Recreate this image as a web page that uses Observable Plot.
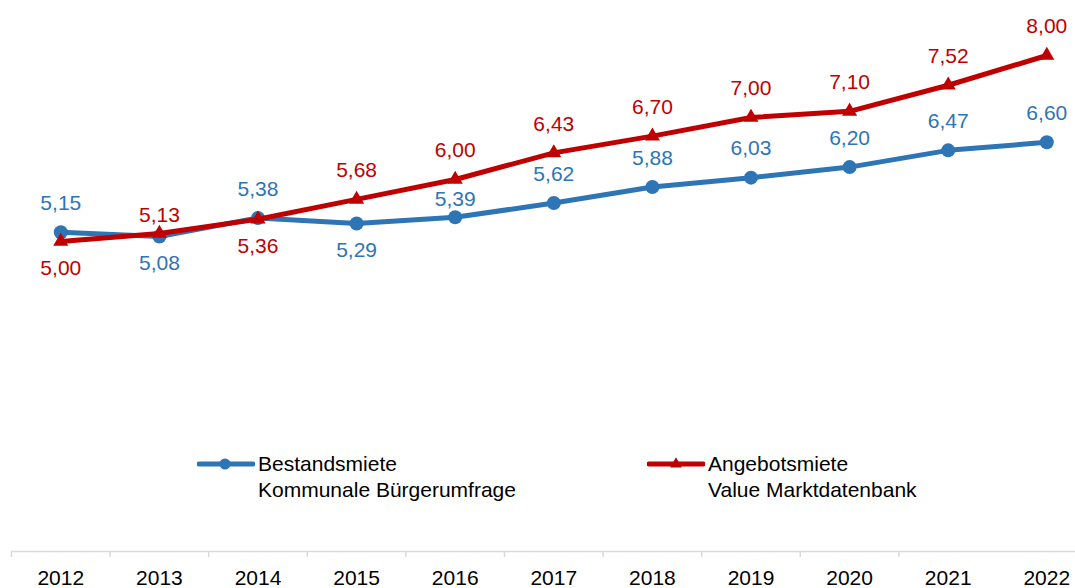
<!DOCTYPE html>
<html>
<head>
<meta charset="utf-8">
<script src="https://cdn.jsdelivr.net/npm/d3@7"></script>
<script src="https://cdn.jsdelivr.net/npm/@observablehq/plot@0.6"></script>
<style>
  html, body { margin: 0; padding: 0; background: #fff; }
  #wrap { position: relative; width: 1075px; height: 588px; font-family: "Liberation Sans", Arial, Helvetica, sans-serif; }
  .legend { position: absolute; display: flex; align-items: flex-start; }
  .legend svg { display: block; margin-top: 0; }
  .legend .lbl { font-size: 21px; line-height: 26px; color: #000; margin-left: 3px; white-space: pre; }
</style>
</head>
<body>
<div id="wrap"></div>
<script>
// ---- data ----
const years = [2012, 2013, 2014, 2015, 2016, 2017, 2018, 2019, 2020, 2021, 2022];
const bestandsmiete = [5.15, 5.08, 5.38, 5.29, 5.39, 5.62, 5.88, 6.03, 6.20, 6.47, 6.60];
const angebotsmiete = [5.00, 5.13, 5.36, 5.68, 6.00, 6.43, 6.70, 7.00, 7.10, 7.52, 8.00];
const bestandLabelPlacement = ["above", "below", "above", "below", "near", "above", "above", "above", "above", "above", "above"];
const angebotLabelPlacement = ["below", "near", "below", "above", "above", "above", "above", "above", "above", "above", "above"];
const seriesNames = ["Bestandsmiete", "Angebotsmiete"];
const seriesSources = ["Kommunale Bürgerumfrage", "Value Marktdatenbank"];

// ---- styles ----
const BLUE = "#2e75b6";
const RED = "#c00000";
const fmt = d => d.toFixed(2).replace(".", ",");
const offsets = {above: -29, below: 27, near: -18};

const bestandData = years.map((y, i) => ({year: y, value: bestandsmiete[i], pos: bestandLabelPlacement[i]}));
const angebotData = years.map((y, i) => ({year: y, value: angebotsmiete[i], pos: angebotLabelPlacement[i]}));
const boundaries = years.slice(0, -1).map(y => y - 0.5);

function labels(data, color) {
  return Object.keys(offsets).map(k => Plot.text(data, {
    filter: d => d.pos === k, x: "year", y: "value", text: d => fmt(d.value),
    dy: offsets[k], fill: color, fontSize: 21
  }));
}

const chart = Plot.plot({
  width: 1075,
  height: 588,
  marginLeft: 11,
  marginRight: 0,
  marginTop: 24,
  marginBottom: 37,
  x: {domain: [years[0] - 0.5, years[years.length - 1] + 0.5], range: [11, 1095.6], label: null},
  y: {domain: [0, 8.5], axis: null},
  style: {fontFamily: "'Liberation Sans', Arial, Helvetica, sans-serif", fontSize: "21px", background: "#fff"},
  marks: [
    Plot.ruleY([0], {stroke: "#d9d9d9", strokeWidth: 1.5}),
    Plot.axisX({ticks: boundaries, tickSize: 6, tickFormat: () => "", label: null, stroke: "#d9d9d9", strokeWidth: 1.5, strokeOpacity: 1}),
    Plot.axisX({ticks: years, tickSize: 0, tickPadding: 19, tickFormat: d => String(d), label: null, fontSize: 21, fill: "#000"}),
    Plot.line(bestandData, {x: "year", y: "value", stroke: BLUE, strokeWidth: 5, strokeLinejoin: "round", strokeLinecap: "round"}),
    Plot.dot(bestandData, {x: "year", y: "value", r: 7, fill: BLUE, symbol: "circle"}),
    Plot.line(angebotData, {x: "year", y: "value", stroke: RED, strokeWidth: 5, strokeLinejoin: "round", strokeLinecap: "round"}),
    Plot.dot(angebotData, {x: "year", y: "value", r: 5.6, fill: RED, symbol: "triangle"}),
    ...labels(bestandData, BLUE),
    ...labels(angebotData, RED)
  ]
});

const wrap = document.getElementById("wrap");
wrap.appendChild(chart);

// ---- legend (inside plot area) ----
const legendItems = [
  {name: seriesNames[0], source: seriesSources[0], color: BLUE, symbol: "circle", left: 197},
  {name: seriesNames[1], source: seriesSources[1], color: RED, symbol: "triangle", left: 647}
];
legendItems.forEach(it => {
  const div = d3.select(wrap).append("div").attr("class", "legend")
    .style("left", it.left + "px").style("top", "451px");
  const svg = div.append("svg").attr("width", 58).attr("height", 26);
  svg.append("line").attr("x1", 2).attr("x2", 56).attr("y1", 13).attr("y2", 13)
    .attr("stroke", it.color).attr("stroke-width", 5).attr("stroke-linecap", "round");
  if (it.symbol === "circle") {
    svg.append("circle").attr("cx", 28).attr("cy", 13).attr("r", 5.5).attr("fill", it.color);
  } else {
    svg.append("path").attr("d", d3.symbol(d3.symbolTriangle, 60)()).attr("transform", "translate(29,13)").attr("fill", it.color);
  }
  div.append("div").attr("class", "lbl").text(it.name + "\n" + it.source);
});
</script>
</body>
</html>
